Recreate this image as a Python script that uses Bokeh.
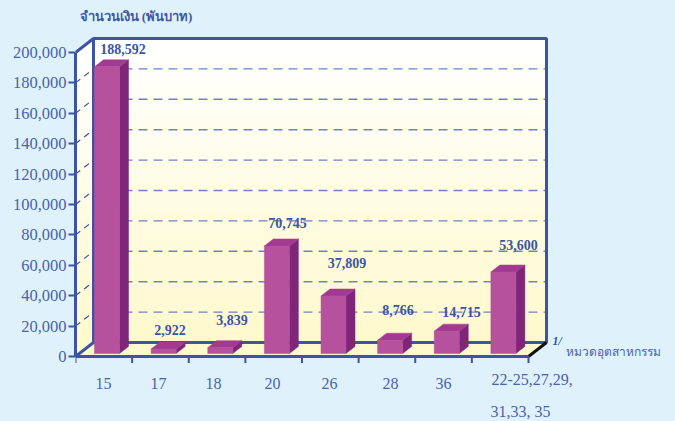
from bokeh.plotting import figure
from bokeh.embed import file_html
from bokeh.resources import INLINE
from bokeh.models import FixedTicker, NumeralTickFormatter, Label
from bokeh.core.properties import value

categories = ["15", "17", "18", "20", "26", "28", "36", "22-25,27,29,\n31,33, 35"]
amounts = [188592, 2922, 3839, 70745, 37809, 8766, 14715, 53600]
amount_labels = ["188,592", "2,922", "3,839", "70,745", "37,809", "8,766", "14,715", "53,600"]
y_ticks = [0, 20000, 40000, 60000, 80000, 100000, 120000, 140000, 160000, 180000, 200000]
y_title = "จำนวนเงิน (พันบาท)"
x_title = "หมวดอุตสาหกรรม"
note = "1/"

# layout (page pixels)
X0, PX_CAT = 75.0, 56.625
Y0, PX_VAL = 356.0, 304.0 / 200000
LEFT, TOP = 8, 8
W, H = 659, 413
def ux(px): return (px - X0) / PX_CAT
def uy(py): return (Y0 - py) / PX_VAL
DX, DY = ux(93.0), 14 * 1 / PX_VAL
BLUE = "#3c54a2"
TXT = "#4a62ad"
BG = "#dff2fb"
SERIF = "Liberation Serif"

p = figure(width=W, height=H, output_backend="svg", toolbar_location=None,
           x_range=(0, ux(LEFT + W)), y_range=(uy(TOP + H), uy(TOP)),
           min_border_left=int(X0 - LEFT), min_border_right=0, min_border_top=0,
           min_border_bottom=0)
p.background_fill_color = BG
p.border_fill_color = BG
p.outline_line_color = None
p.grid.visible = False

# walls: vertical gradient strips
def mix(t):
    a, b = (255, 255, 255), (255, 249, 204)
    return "#%02x%02x%02x" % tuple(round(a[i] + (b[i] - a[i]) * t) for i in range(3))
N = 40
xs_b, ys_b, xs_w, ys_w, cols = [], [], [], [], []
R = 8.0
for i in range(N):
    v0 = 200000 * i / N
    v1 = 200000 * (i + 1) / N
    xs_b.append([DX, R + DX, R + DX, DX])
    ys_b.append([v0 + DY, v0 + DY, v1 + DY, v1 + DY])
    xs_w.append([0, DX, DX, 0])
    ys_w.append([v0, v0 + DY, v1 + DY, v1])
    cols.append(mix(1 - (i + .5) / N))
p.patches(xs_b, ys_b, fill_color=cols, line_color=cols, line_width=1)
p.patches(xs_w, ys_w, fill_color=cols, line_color=cols, line_width=1)
# floor
p.patch([0, DX, R + DX, R], [0, DY, DY, 0], fill_color="#fff9cc", line_color="#fff9cc")

# grid
for v in y_ticks[1:-1]:
    p.line([DX, R + DX], [v + DY, v + DY], line_color="#6f83c0", line_width=1.4, line_dash="9 6")
    p.line([0, DX], [v, v + DY], line_color=BLUE, line_width=1.2, line_dash="6 5")

# frame
p.line([DX, DX, R + DX, R + DX, DX], [DY, 200000 + DY, 200000 + DY, DY, DY], line_color=BLUE, line_width=3)
p.line([0, DX], [200000, 200000 + DY], line_color=BLUE, line_width=3)
p.line([0, DX], [0, DY], line_color=BLUE, line_width=3)
p.line([R, R + DX], [0, DY], line_color="#111111", line_width=3)

# bars
BW = 25 / PX_CAT
BX = 19 / PX_CAT
SX = 9 / PX_CAT
SY = 7 / PX_VAL
BASE = 3 / PX_VAL
lefts = [i + BX for i in range(len(amounts))]
rights = [l + BW for l in lefts]
tops = [a + BASE for a in amounts]
p.patches([[r, r + SX, r + SX, r] for r in rights],
          [[BASE, BASE + SY, t + SY, t] for t in tops],
          fill_color="#7f2679", line_color="#7f2679", line_width=0.5)
p.patches([[l, l + SX, r + SX, r] for l, r in zip(lefts, rights)],
          [[t, t + SY, t + SY, t] for t in tops],
          fill_color="#a33a92", line_color="#a33a92", line_width=0.5)
p.quad(left=lefts, right=rights, bottom=BASE, top=tops,
       fill_color="#b5519d", line_color="#b5519d", line_width=0.5)

# value labels
lab_px = [122.5, 169.5, 231.5, 287, 346.5, 397.5, 461, 518]
lab_py = [48, 329, 319, 222, 262, 309, 311, 244]
p.text([ux(v) for v in lab_px], [uy(v) for v in lab_py], text=amount_labels,
       text_font=value(SERIF), text_font_style="bold", text_font_size="14px",
       text_color="#3a55a5", text_align="center", text_baseline="middle")

# axes
ya = p.yaxis[0]
ya.ticker = FixedTicker(ticks=y_ticks)
ya.formatter = NumeralTickFormatter(format="0,0")
ya.bounds = (0, 200000)
ya.axis_line_color = BLUE
ya.axis_line_width = 3
ya.major_tick_line_color = BLUE
ya.major_tick_line_width = 2
ya.major_tick_in = 0
ya.major_tick_out = 7
ya.minor_tick_line_color = None
ya.major_label_standoff = 2
ya.major_label_text_font = SERIF
ya.major_label_text_font_size = "16.5px"
ya.major_label_text_color = TXT

lab_x = [103, 158, 213, 272, 329, 390, 443]
xa = p.xaxis[0]
tick_pos = [ux(v) for v in lab_x]
xa.ticker = FixedTicker(ticks=tick_pos)
xa.major_label_overrides = dict(zip(tick_pos, categories[:7]))
xa.fixed_location = 0
xa.bounds = (0, 8)
xa.axis_line_color = BLUE
xa.axis_line_width = 3
xa.major_tick_line_color = None
xa.minor_tick_line_color = None
xa.major_label_standoff = 15
xa.major_label_text_font = SERIF
xa.major_label_text_font_size = "16px"
xa.major_label_text_color = TXT

# category boundary ticks
bounds = list(range(len(categories) + 1))
p.segment(bounds, [0] * len(bounds), bounds, [-6.5 / PX_VAL] * len(bounds),
          line_color=BLUE, line_width=2)

def label(txt, px, py, size, color=TXT, style="normal", font=SERIF, align="left"):
    p.add_layout(Label(x=ux(px), y=uy(py), text=txt, text_font=font, text_font_size=size,
                       text_color=color, text_font_style=style, text_align=align,
                       text_baseline="middle", level="overlay"))

line1, line2 = categories[7].split("\n")
label(line1, 491, 379, "16px")
label(line2, 490, 411, "16px")
label(y_title, 79, 16, "13px", color="#3f58a6", style="bold")
label(x_title, 565, 351, "12px")
label(note, 552, 340, "12px", color=BLUE, style="bold italic")

html = file_html(p, INLINE)
html = html.replace("</head>", "<style>html,body{background:%s;}body{margin:8px 8px 0 8px !important;overflow:hidden}</style></head>" % BG, 1)
open("out.html", "w").write(html)
